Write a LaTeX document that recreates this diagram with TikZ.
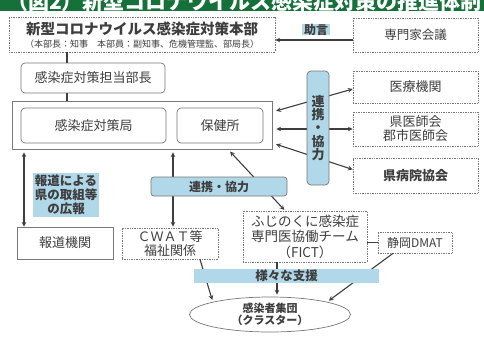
\documentclass[tikz,border=0pt]{standalone}
\usepackage{fontspec}
\setmainfont{Noto Sans CJK JP}
\usepackage{tikz}
\usetikzlibrary{shapes.geometric}
\definecolor{band}{RGB}{22, 112, 58}
\definecolor{tag}{RGB}{176, 216, 232}
\definecolor{ink}{RGB}{62, 62, 62}
\definecolor{rim}{RGB}{120, 120, 120}

\begin{document}
\begin{tikzpicture}[x=1pt, y=-1pt,
  every node/.style={text=ink, align=center, inner sep=0pt},
  dotbox/.style={draw=rim, densely dotted, line width=0.7pt, fill=white},
  roundbox/.style={draw=rim, rounded corners=4pt, line width=0.7pt, fill=white},
  tagbox/.style={fill=tag},
  wire/.style={draw=ink, line width=1.1pt, >=stealth}]

  \useasboundingbox (0, 0) rectangle (484, 338);
  \fill[white] (0, 0) rectangle (484, 338);

  % title band, cut at the top edge
  \begin{scope}
    \clip (0, 0) rectangle (484, 11);
    \fill[band] (0, 0) rectangle (484, 11);
    \node[text=white, anchor=base east, font=\fontsize{21}{21}\selectfont\bfseries] (title) at (482, 9) {（図2）新型コロナウイルス感染症対策の推進体制};
  \end{scope}

  \node[dotbox, minimum width=266, minimum height=35] (hq) at (142, 34.5) {};
  \node[font=\fontsize{14.5}{16}\selectfont\bfseries] (hqname) at (142, 29) {新型コロナウイルス感染症対策本部};
  \node[font=\fontsize{9}{10}\selectfont] (hqsub) at (142, 44) {（本部長：知事　本部員：副知事、危機管理監、部局長）};

  \node[dotbox, minimum width=125, minimum height=34, font=\fontsize{12.5}{14}\selectfont] (expert) at (415.5, 35) {専門家会議};
  \node[tagbox, minimum width=28, minimum height=11, font=\fontsize{12}{12}\selectfont\bfseries] (advice) at (316, 29.5) {助言};

  \node[roundbox, minimum width=144, minimum height=30, font=\fontsize{13}{15}\selectfont] (chief) at (93, 78) {感染症対策担当部長};

  \node[draw=rim, line width=0.7pt, minimum width=260, minimum height=48] (bigbox) at (142, 125) {};
  \node[roundbox, minimum width=145, minimum height=35, font=\fontsize{13}{15}\selectfont] (bureau) at (93.5, 125.5) {感染症対策局};
  \node[roundbox, minimum width=86, minimum height=35, font=\fontsize{13}{15}\selectfont] (health) at (220, 125.5) {保健所};

  \node[dotbox, minimum width=125, minimum height=32, font=\fontsize{13}{15}\selectfont] (clinic) at (415.5, 87) {医療機関};
  \node[dotbox, minimum width=125, minimum height=34, font=\fontsize{13}{14}\selectfont] (doctors) at (415.5, 129) {県医師会\\郡市医師会};
  \node[dotbox, minimum width=125, minimum height=35, font=\fontsize{13}{15}\selectfont\bfseries] (hospital) at (415.5, 175.5) {県病院協会};

  \node[draw=rim, line width=0.7pt, minimum width=96, minimum height=32, font=\fontsize{13}{15}\selectfont] (media) at (65, 243) {報道機関};
  \node[dotbox, minimum width=96, minimum height=31, font=\fontsize{13}{14}\selectfont] (cwat) at (170, 243.5) {ＣＷＡＴ等\\福祉関係};
  \node[dotbox, minimum width=124, minimum height=51, font=\fontsize{13.5}{15.5}\selectfont] (fict) at (305, 236.5) {ふじのくに感染症\\専門医協働チーム\\（FICT）};
  \node[dotbox, minimum width=74, minimum height=21, font=\fontsize{12}{14}\selectfont] (dmat) at (415, 242.5) {静岡DMAT};

  \node[ellipse, draw=rim, line width=0.7pt, minimum width=161, minimum height=35, font=\fontsize{11}{12.5}\selectfont\bfseries] (cluster) at (270, 314.5) {感染者集団\\（クラスター）};

  \coordinate (trunk) at (67, 0);
  \coordinate (press) at (24, 0);

  \draw[wire] (trunk |- hq.south) -- (trunk |- chief.north);
  \draw[wire] (trunk |- chief.south) -- (trunk |- bigbox.north);
  \draw[wire, ->] ([yshift=-5pt]expert.west) -- ([yshift=-5pt]expert.west -| hq.east);

  \draw[wire, <->, shorten <=4pt] ([yshift=13pt]bigbox.east) -- ([yshift=-2pt]clinic.west);
  \draw[wire, <->, shorten <=4pt] (bigbox.east |- doctors.west) -- (doctors.west);
  \draw[wire, <->, shorten <=4pt] ([yshift=-18pt]bigbox.east) -- ([yshift=6pt]hospital.west);

  \draw[wire, <->, shorten <=3pt] (press |- bigbox.south) -- (press |- media.north);
  \draw[wire, <->, shorten <=3pt, shorten >=1pt] ([xshift=3pt]cwat.north |- bigbox.south) -- ([xshift=3pt]cwat.north);
  \draw[wire, <->, shorten <=3pt, shorten >=1pt] ([xshift=86pt]bigbox.south) -- ([xshift=-20pt]fict.north);
  \draw[wire] (dmat.west -| fict.east) -- (dmat.west);

  \draw[wire, ->, shorten >=2pt] ([xshift=30pt]cwat.south) -- (cluster.north west);
  \draw[wire, ->, shorten >=2pt] ([xshift=-28pt]fict.south) -- ([xshift=-28pt]fict.south |- cluster.north);
  \draw[wire, ->, shorten >=2pt] ([xshift=-22pt]dmat.south) -- (cluster.north east);

  % labels laid over the wires
  \node[tagbox, draw=rim, rounded corners=4pt, line width=0.7pt, minimum width=22, minimum height=114, font=\fontsize{13}{13.4}\selectfont\bfseries] (linkv) at (318, 128) {連\\携\\・\\協\\力};
  \node[tagbox, draw=rim, rounded corners=3pt, line width=0.7pt, minimum width=136, minimum height=19, font=\fontsize{12}{14}\selectfont\bfseries] (linkh) at (219, 186.5) {連携・協力};
  \node[tagbox, minimum width=66, minimum height=44, font=\fontsize{12.5}{14}\selectfont\bfseries] (pr) at (66, 195) {報道による\\県の取組等\\の広報};
  \node[tagbox, minimum width=185, minimum height=14, font=\fontsize{12.5}{13}\selectfont\bfseries] (support) at (286.5, 276) {様々な支援};

\end{tikzpicture}
\end{document}
